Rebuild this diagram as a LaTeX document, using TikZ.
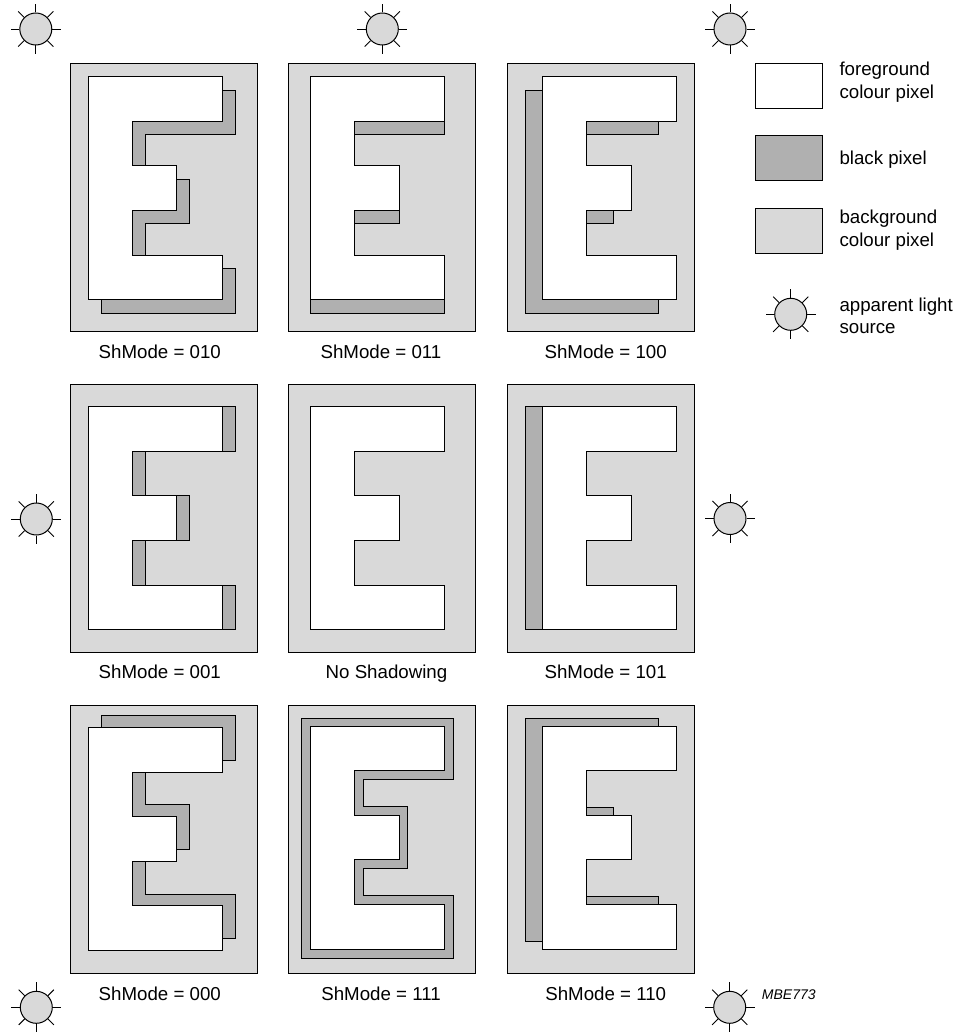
\documentclass[tikz,border=0pt]{standalone}
\usepackage{fontspec}
\setmainfont{Liberation Sans}
\definecolor{bgpix}{HTML}{D9D9D9}
\definecolor{blkpix}{HTML}{B0B0B0}
\tikzset{
  panel/.style={draw=black,line width=1pt,fill=bgpix},
  glyph/.style={draw=black,line width=1pt,fill=white,line join=miter},
  shade/.style={draw=black,line width=1pt,fill=blkpix,line join=miter},
  legendbox/.style={draw=black,line width=1pt,minimum width=67.3pt,minimum height=44.6pt,inner sep=0pt,outer sep=0pt,anchor=north west},
  sunbody/.style={circle,draw=black,line width=1pt,fill=bgpix,minimum size=32pt,inner sep=0pt},
  ray/.style={draw=black,line width=0.9pt},
  captxt/.style={anchor=base,inner sep=0pt,font=\fontsize{18.7}{22.7}\selectfont},
  legendtxt/.style={anchor=base west,inner sep=0pt,font=\fontsize{18.7}{22.7}\selectfont},
  tagtxt/.style={anchor=base west,inner sep=0pt,font=\fontsize{14}{16}\selectfont\itshape}
}
% E outline with its upper left corner at (#1,#2)
\newcommand{\Eoutline}[2]{(#1,#2) -- ++(133.9,0) -- ++(0,44.5) -- ++(-89.9,0) -- ++(0,44.5) -- ++(44.5,0) -- ++(0,44.6) -- ++(-44.5,0) -- ++(0,44.7) -- ++(89.9,0) -- ++(0,44.6) -- ++(-133.9,0) -- cycle}
% panel: name, frame left, frame top
\newcommand{\Frame}[3]{\node[panel,minimum width=187.2pt,minimum height=268.3pt,inner sep=0pt,outer sep=0pt,anchor=north west] (#1) at (#2,#3) {};}
\newcommand{\Sun}[3]{\node[sunbody] (#1) at (#2,#3) {};
  \foreach \a in {0,45,...,315} {\draw[ray] (#1.\a) -- ++(\a:8.4pt);}}
\begin{document}
\begin{tikzpicture}[x=1pt,y=-1pt]
\useasboundingbox (0,0) rectangle (959,1032);
% row 1
\Frame{p010}{70.6}{63.6}
\draw[shade] \Eoutline{101.3}{90.2};
\draw[glyph] \Eoutline{88.4}{76.7};
\Frame{p011}{288.6}{63.6}
\draw[shade] \Eoutline{310.7}{90.2};
\draw[glyph] \Eoutline{310.7}{76.7};
\Frame{p100}{507.5}{63.6}
\draw[shade] \Eoutline{525}{90.2};
\draw[glyph] \Eoutline{542.8}{76.7};
% row 2
\Frame{p001}{70.6}{384.4}
\draw[shade] \Eoutline{101.3}{406.7};
\draw[glyph] \Eoutline{88.4}{406.7};
\Frame{pnone}{288.6}{384.4}
\draw[glyph] \Eoutline{310.7}{406.7};
\Frame{p101}{507.5}{384.4}
\draw[shade] \Eoutline{525}{406.7};
\draw[glyph] \Eoutline{542.8}{406.7};
% row 3
\Frame{p000}{70.6}{705.2}
\draw[shade] \Eoutline{101.3}{715.7};
\draw[glyph] \Eoutline{88.4}{727.5};
\Frame{p111}{288.6}{705.2}
\draw[shade] (301.3,718.3) -- (453.3,718.3) -- (453.3,779.3) -- (363.3,779.3) -- (363.3,806.3) -- (407.7,806.3) -- (407.7,868.7) -- (363.3,868.7) -- (363.3,895.7) -- (453.3,895.7) -- (453.3,958) -- (301.3,958) -- cycle;
\draw[glyph] \Eoutline{310.7}{726.2};
\Frame{p110}{507.5}{705.2}
\draw[shade] \Eoutline{525}{718.3};
\draw[glyph] \Eoutline{542.8}{726.2};
% captions
\node[captxt] (c010) at (159.8,358.3) {ShMode = 010};
\node[captxt] (c011) at (381,358.3) {ShMode = 011};
\node[captxt] (c100) at (605.7,358.3) {ShMode = 100};
\node[captxt] (c001) at (159.8,678.3) {ShMode = 001};
\node[captxt] (cnone) at (386.5,678.3) {No Shadowing};
\node[captxt] (c101) at (605.7,678.3) {ShMode = 101};
\node[captxt] (c000) at (159.8,1000.5) {ShMode = 000};
\node[captxt] (c111) at (381,1000.5) {ShMode = 111};
\node[captxt] (c110) at (605.7,1000.5) {ShMode = 110};
% light sources
\Sun{s1}{35.8}{29}
\Sun{s2}{382.3}{29}
\Sun{s3}{730}{29}
\Sun{s4}{36.3}{519}
\Sun{s5}{730}{518.5}
\Sun{s6}{36.3}{1007.3}
\Sun{s7}{729.7}{1007.3}
\Sun{s8}{790.7}{314.3}
% legend
\node[legendbox,fill=white] (lfg) at (755.4,63.7) {};
\node[legendbox,fill=blkpix] (lbk) at (755.4,135.9) {};
\node[legendbox,fill=bgpix] (lbg) at (755.4,208.6) {};
\node[legendtxt] (t1) at (839.3,76) {foreground};
\node[legendtxt] (t2) at (839.3,98.7) {colour pixel};
\node[legendtxt] (t3) at (839.3,165) {black pixel};
\node[legendtxt] (t4) at (839.3,224) {background};
\node[legendtxt] (t5) at (839.3,246.7) {colour pixel};
\node[legendtxt] (t6) at (839.3,311) {apparent light};
\node[legendtxt] (t7) at (839.3,333.7) {source};
\node[tagtxt] (mbe) at (761.7,999) {MBE773};
\end{tikzpicture}
\end{document}
